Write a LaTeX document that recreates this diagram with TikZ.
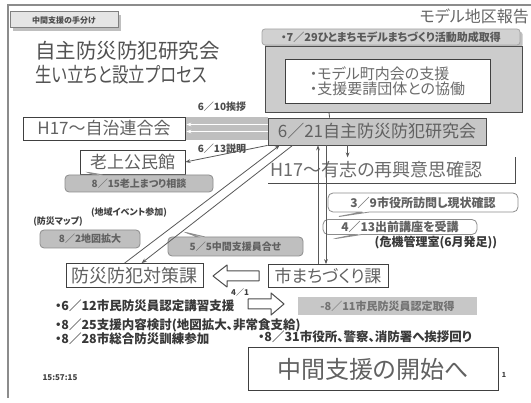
\documentclass[tikz,border=0pt]{standalone}
\usepackage{fontspec}
\setmainfont{Noto Sans CJK JP}[RawFeature=+palt]
\usetikzlibrary{calc,arrows.meta,shapes.callouts,shadows}
\newcommand\jpsize[1]{\fontsize{#1}{#1}\selectfont}
\tikzset{
  wbox/.style={draw=black!75, fill=white, text=black!62, line width=0.8pt, inner sep=0pt},
  gbox/.style={draw=black!70, fill=black!22, text=black!62, line width=0.8pt, inner sep=0pt},
  gtag/.style={rectangle callout, rounded corners=4pt, draw=black!45, fill=black!25,
    text=black!62, font=\bfseries\jpsize{10}, inner sep=0pt, line width=0.8pt},
  wtag/.style={rectangle callout, rounded corners=5pt, draw=black!45, fill=white,
    text=black!62, font=\bfseries\jpsize{12}, inner sep=0pt, line width=0.8pt},
  note/.style={font=\bfseries\jpsize{12.5}, text=black!78, inner sep=0pt, anchor=west},
  hollow/.style={draw=black!70, fill=white, line width=1pt, line join=round},
  link/.style={black!65, line width=0.8pt, -{Stealth[length=5pt]}},
}
\begin{document}
\begin{tikzpicture}[x=1pt, y=-1pt]
  \useasboundingbox (0,0) rectangle (531,403);
  \fill[white] (0,0) rectangle (531,403);
  \draw[black!45, line width=1.5pt] (531,5) -- (8,5) -- (8,398);

  % title block
  \node [draw=black!50, fill=black!10, line width=1pt, drop shadow, text=black!70,
    font=\bfseries\jpsize{8}, minimum width=108, minimum height=16, inner sep=0pt] (tag) at (64,20) {中間支援の手分け};
  \node [anchor=west, text=black!68, font=\jpsize{20.5}, inner sep=0pt] (title1) at (35,51) {自主防災防犯研究会};
  \node [anchor=west, text=black!68, font=\jpsize{20.5}, inner sep=0pt] (title2) at (35,75) {\scalebox{0.8}[1]{生い立ちと設立プロセス}};
  \node [anchor=east, text=black!60, font=\jpsize{16}, inner sep=0pt] (report) at (529,16) {モデル地区報告};

  % research group and support
  \node [gbox, fill=black!18, draw=black!35, rounded corners=3pt, drop shadow, font=\bfseries\jpsize{11},
    text=black!65, minimum width=258, minimum height=16] (grant) at (391,37) {・7／29ひとまちモデルまちづくり活動助成取得};
  \node [gbox, fill=black!20, minimum width=257, minimum height=66] (outer) at (393.5,79.5) {};
  \node [wbox, minimum width=205, minimum height=44, align=left, font=\jpsize{15},
    text=black!58] (inner) at (387.5,81) {・モデル町内会の支援\\・支援要請団体との協働};
  \node [gbox, minimum width=218, minimum height=27, font=\jpsize{17}] (kenkyu) at (377,131.5) {6／21自主防災防犯研究会};
  \draw [black!65, line width=0.8pt] ($(outer.south west)!0.25!(outer.south east)$) -- ($(kenkyu.north west)+(62,0)$);

  \node [wbox, minimum width=162, minimum height=23, font=\jpsize{17}] (jichi) at (104,128.5) {H17～自治連合会};
  \node [wbox, minimum width=105, minimum height=24, font=\jpsize{17}] (kouminkan) at (132.5,162) {老上公民館};

  \fill [black!25] ($(jichi.north east)+(1,0)$) rectangle (kenkyu.west |- jichi.south);
  \coordinate (b1) at ($(jichi.east)+(1,-4)$);
  \coordinate (b2) at ($(jichi.east)+(1,3)$);
  \draw [link, white, line width=1.2pt] (kenkyu.west |- b1) -- (b1);
  \draw [link, white, line width=1.2pt] (kenkyu.west |- b2) -- (b2);
  \draw [link] (kenkyu.south west) -- (kouminkan.east);
  \node [font=\bfseries\jpsize{10}, text=black!70] (l610) at (222,107) {6／10挨拶};
  \node [font=\bfseries\jpsize{10}, text=black!70] (l613) at (222,149) {6／13説明};

  \node [anchor=west, text=black!58, font=\jpsize{18}, inner sep=0pt] (yushi) at (270,170) {H17～有志の再興意思確認};
  \draw [black!70, line width=0.8pt] (268,183) -- (515,183) -- (515,157);
  \draw [link] ($(kenkyu.south west)+(80,0)$) -- ++(0,12);

  \node [gtag, minimum width=148, minimum height=17, callout absolute pointer={(86,172)}] (c815) at (139,183.5) {8／15老上まつり相談};
  \node [font=\bfseries\jpsize{9}, text=black!75] (map) at (58,222) {(防災マップ)};
  \node [font=\bfseries\jpsize{9}, text=black!75] (event) at (129,213) {(地域イベント参加)};
  \node [gtag, rectangle, minimum width=100, minimum height=18] (c82) at (90,239) {8／2地図拡大};
  \node [gtag, minimum width=135, minimum height=19, callout absolute pointer={(184,232)}] (c55) at (235.5,246.5) {5／5中間支援員合せ};

  \node [wtag, minimum width=190, minimum height=19, callout absolute pointer={(336,217)}] (c39) at (423,202.5) {3／9市役所訪問し現状確認};
  \node [wtag, minimum width=154, minimum height=15, callout absolute pointer={(333,239)}] (c413) at (400,227) {4／13出前講座を受講};
  \node [font=\bfseries\jpsize{12}, text=black!78] (kiki) at (436,243) {(危機管理室(6月発足))};

  % city sections
  \node [wbox, minimum width=137, minimum height=24, font=\jpsize{18}] (taisaku) at (134.5,275.5) {防災防犯対策課};
  \node [wbox, minimum width=120, minimum height=23, font=\jpsize{17}] (machi) at (328,276) {市まちづくり課};
  \coordinate (v1) at (318,0);
  \coordinate (v2) at (326,0);
  \draw [link] (machi.north -| v1) -- (kenkyu.south -| v1);
  \draw [link] (kenkyu.south -| v2) -- (machi.north -| v2);
  \draw [link] ($(taisaku.north west)+(59,0)$) -- ($(kenkyu.south west)+(12,0)$);
  \draw [link] ($(kenkyu.south west)+(25,0)$) -- ($(taisaku.north west)+(76,0)$);

  % hollow arrow machi -> taisaku
  \coordinate (aL) at (237,276);
  \draw [hollow] (aL) ++(-24,0) -- ++(14,-11) -- ++(0,6) -- ++(32,0) -- ++(0,10)
    -- ++(-32,0) -- ++(0,6) -- cycle;
  \node [font=\bfseries\jpsize{8}, text=black!75] (d41) at (240,292) {4／1};

  % results
  \node [note] (n612) at (55,306) {・6／12市民防災員認定講習支援};
  \node [gbox, draw=none, fill=black!22, text=black!55, font=\bfseries\jpsize{11},
    minimum width=179, minimum height=18] (n811) at (387.5,306) {-8／11市民防災員認定取得};
  \coordinate (aR) at ($(n612.east)!0.5!(n811.west)$);
  \draw [hollow] ($(aR)+(18,-2)$) -- ++(-13,-11) -- ++(0,6) -- ++(-23,0) -- ++(0,10)
    -- ++(23,0) -- ++(0,6) -- cycle;
  \node [note] (n825) at (55,325) {・8／25支援内容検討(地図拡大、非常食支給)};
  \node [note] (n828) at (55,339) {・8／28市総合防災訓練参加};
  \node [note] (n831) at (258,337) {・8／31市役所、警察、消防署へ挨拶回り};

  \node [wbox, minimum width=250, minimum height=43, font=\jpsize{24}, text=black!62] (kaishi) at (373,369) {中間支援の開始へ};
  \node [font=\bfseries\jpsize{8}, text=black!75] (time) at (60,378) {15:57:15};
  \node [font=\bfseries\jpsize{7}, text=black!75] (page) at (504,375) {1};
\end{tikzpicture}
\end{document}
